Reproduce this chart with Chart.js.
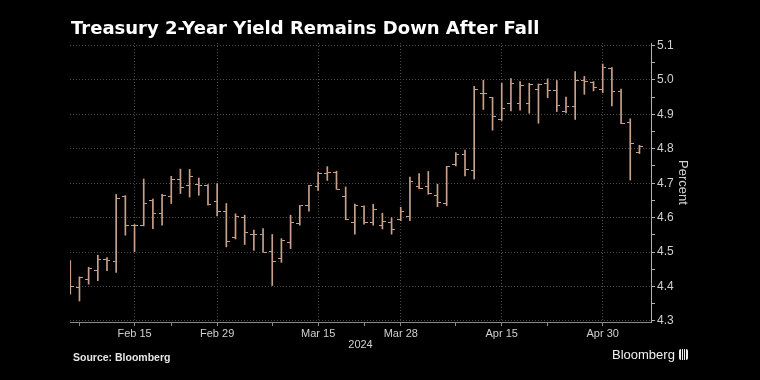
<!DOCTYPE html>
<html><head><meta charset="utf-8">
<script src="https://cdn.jsdelivr.net/npm/chart.js@4"></script>
<style>
html,body{margin:0;padding:0;background:#000;}
#wrap{position:relative;width:760px;height:380px;background:#000;overflow:hidden;}
#title{position:absolute;left:71px;top:17px;font:bold 18px "DejaVu Sans",Verdana,sans-serif;color:#fff;white-space:nowrap;}
#source{position:absolute;left:73px;top:351px;font:bold 10.5px "Liberation Sans",Arial,sans-serif;color:#e6e6e6;white-space:nowrap;}
#brand{position:absolute;left:612px;top:347px;font:13px "Liberation Sans",Arial,sans-serif;color:#f0f0f0;white-space:nowrap;}
#icon{display:inline-block;width:9px;height:11px;margin-left:4px;vertical-align:-1px;border-radius:2px;
 background:linear-gradient(90deg,#eee 0 2px,#000 2px 3px,#eee 3px 4px,#000 4px 5px,#eee 5px 6px,#000 6px 7px,#eee 7px 9px);}
canvas{position:absolute;left:0;top:0;}
</style></head>
<body>
<div id="wrap">
<canvas id="c" width="760" height="380"></canvas>
<div id="title">Treasury 2-Year Yield Remains Down After Fall</div>
<div id="source">Source: Bloomberg</div>
<div id="brand">Bloomberg<span id="icon"></span></div>
</div>
<script>
const dates = ['2024-02-06','2024-02-07','2024-02-08','2024-02-09','2024-02-12','2024-02-13','2024-02-14','2024-02-15','2024-02-16','2024-02-20','2024-02-21','2024-02-22','2024-02-23','2024-02-26','2024-02-27','2024-02-28','2024-02-29',
'2024-03-01','2024-03-04','2024-03-05','2024-03-06','2024-03-07','2024-03-08','2024-03-11','2024-03-12','2024-03-13','2024-03-14','2024-03-15','2024-03-18','2024-03-19','2024-03-20','2024-03-21','2024-03-22','2024-03-25','2024-03-26','2024-03-27','2024-03-28',
'2024-04-01','2024-04-02','2024-04-03','2024-04-04','2024-04-05','2024-04-08','2024-04-09','2024-04-10','2024-04-11','2024-04-12','2024-04-15','2024-04-16','2024-04-17','2024-04-18','2024-04-19','2024-04-22','2024-04-23','2024-04-24','2024-04-25','2024-04-26','2024-04-29','2024-04-30',
'2024-05-01','2024-05-02','2024-05-03','2024-05-06'];
const openVals  = [4.405,4.397,4.421,4.446,4.479,4.472,4.662,4.577,4.578,4.649,4.611,4.662,4.711,4.694,4.696,4.694,4.648,
4.619,4.541,4.601,4.551,4.552,4.501,4.482,4.528,4.582,4.634,4.690,4.728,4.730,4.662,4.587,4.631,4.585,4.577,4.586,4.596,
4.602,4.689,4.690,4.664,4.640,4.753,4.784,4.738,4.960,4.949,4.885,4.930,4.930,4.930,4.971,4.988,4.969,4.909,4.923,4.999,4.992,4.973,
5.034,4.965,4.877,4.789];
const highVals  = [4.475,4.428,4.456,4.491,4.484,4.667,4.664,4.580,4.712,4.654,4.668,4.720,4.741,4.740,4.715,4.696,4.699,
4.641,4.611,4.607,4.564,4.568,4.551,4.539,4.607,4.635,4.694,4.732,4.748,4.735,4.689,4.639,4.634,4.639,4.613,4.600,4.630,
4.718,4.728,4.734,4.697,4.749,4.789,4.796,4.981,4.999,4.949,4.990,5.004,4.995,4.990,4.988,5.003,4.998,4.950,5.024,5.010,4.995,5.046,
5.036,4.973,4.887,4.810];
const lowVals   = [4.378,4.358,4.407,4.417,4.446,4.441,4.549,4.501,4.576,4.568,4.578,4.641,4.670,4.660,4.665,4.636,4.605,
4.515,4.538,4.522,4.505,4.500,4.403,4.470,4.510,4.578,4.619,4.679,4.708,4.682,4.594,4.552,4.581,4.578,4.567,4.552,4.591,
4.591,4.684,4.668,4.632,4.635,4.750,4.721,4.712,4.914,4.854,4.882,4.910,4.912,4.903,4.874,4.948,4.908,4.904,4.885,4.958,4.968,4.963,
4.924,4.873,4.709,4.786];
const closeVals = [4.400,4.426,4.452,4.479,4.476,4.655,4.577,4.576,4.640,4.611,4.665,4.711,4.688,4.718,4.693,4.637,4.618,
4.531,4.604,4.557,4.551,4.500,4.472,4.535,4.587,4.634,4.692,4.728,4.730,4.683,4.596,4.636,4.586,4.624,4.590,4.567,4.617,
4.706,4.686,4.671,4.645,4.749,4.784,4.741,4.972,4.959,4.894,4.918,4.988,4.983,4.986,4.986,4.969,4.925,4.924,4.997,4.995,4.978,5.036,
4.965,4.873,4.816,4.806];
const xTickDates  = ['2024-02-15','2024-02-29','2024-03-15','2024-03-28','2024-04-15','2024-04-30'];
const xTickLabels = ['Feb 15','Feb 29','Mar 15','Mar 28','Apr 15','Apr 30'];
const xMinorDates = ['2024-02-07','2024-02-22','2024-03-08','2024-03-22','2024-04-08','2024-04-22'];
const yTickValues = [4.3,4.4,4.5,4.6,4.7,4.8,4.9,5.0,5.1];
const yMinorValues = [4.35,4.45,4.55,4.65,4.75,4.85,4.95,5.05];

const BAR = '#c9a18b';
const FONT = '"Liberation Sans", Arial, sans-serif';

const majorIdx = xTickDates.map(d => dates.indexOf(d));
const minorIdx = xMinorDates.map(d => dates.indexOf(d));
const labelAt = {};
majorIdx.forEach((ix, k) => { labelAt[ix] = xTickLabels[k]; });

function tickImg(side) {
  const c = document.createElement('canvas');
  c.width = 7; c.height = 1;
  const g = c.getContext('2d');
  g.fillStyle = BAR;
  if (side === 'left') g.fillRect(0, 0, 3, 1); else g.fillRect(4, 0, 3, 1);
  return c;
}

const isMajorY = v => yTickValues.some(t => Math.abs(t - v) < 1e-6);

new Chart(document.getElementById('c'), {
  type: 'bar',
  data: {
    datasets: [
      { type: 'bar', data: dates.map((d, i) => ({ x: i, y: [lowVals[i], highVals[i]] })),
        backgroundColor: BAR, borderWidth: 0, barThickness: 1, grouped: false, order: 2 },
      { type: 'scatter', data: dates.map((d, i) => ({ x: i, y: openVals[i] })),
        pointStyle: tickImg('left'), pointRadius: 3, order: 1 },
      { type: 'scatter', data: dates.map((d, i) => ({ x: i, y: closeVals[i] })),
        pointStyle: tickImg('right'), pointRadius: 3, order: 1 }
    ]
  },
  options: {
    responsive: false, animation: false, devicePixelRatio: 1, events: [],
    layout: { padding: { left: 70, top: 43, right: 66, bottom: 24 } },
    plugins: { legend: { display: false }, tooltip: { enabled: false } },
    scales: {
      x: {
        type: 'linear', position: 'bottom', min: -0.03, max: 63.26, offset: false,
        afterBuildTicks: s => { s.ticks = majorIdx.concat(minorIdx).sort((a, b) => a - b).map(v => ({ value: v })); },
        afterFit: s => { s.height = 34; },
        ticks: { autoSkip: false, maxRotation: 0, color: '#d0d0d0', padding: 1,
          font: { family: FONT, size: 11 }, callback: v => labelAt[v] || '' },
        grid: { offset: false, color: c => (c.tick && labelAt[c.tick.value] !== undefined) ? '#4a4a4a' : 'rgba(0,0,0,0)',
          tickColor: '#8a8a8a', tickLength: 4, lineWidth: 1 },
        border: { display: true, color: '#8a8a8a', width: 1, dash: [1, 2] },
        title: { display: true, text: '2024', color: '#d0d0d0', font: { family: FONT, size: 11 }, padding: { top: 0, bottom: 4 } }
      },
      y: {
        type: 'linear', position: 'right', min: 4.297, max: 5.107,
        afterBuildTicks: s => { s.ticks = yTickValues.concat(yMinorValues).sort((a, b) => a - b).map(v => ({ value: v })); },
        afterFit: s => { s.width = 43; },
        ticks: { color: '#d0d0d0', padding: 2, font: { family: FONT, size: 12 },
          callback: v => isMajorY(v) ? v.toFixed(1) : '' },
        grid: { color: c => (c.tick && isMajorY(c.tick.value)) ? '#4a4a4a' : 'rgba(0,0,0,0)',
          tickColor: '#b0b0b0', tickLength: 4, lineWidth: 1 },
        border: { display: true, color: '#b0b0b0', width: 1, dash: [1, 2] },
        title: { display: true, text: 'Percent', color: '#d0d0d0', font: { family: FONT, size: 13 }, padding: { top: 4, bottom: 4 } }
      }
    }
  }
});
</script>
</body></html>
